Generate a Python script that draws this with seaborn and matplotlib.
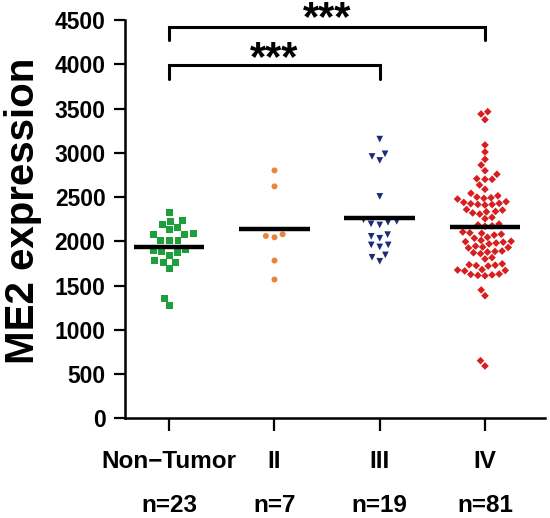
import numpy as np
import pandas as pd
import matplotlib
matplotlib.use("Agg")
import matplotlib.pyplot as plt
import seaborn as sns

categories = ["Non\u2212Tumor", "II", "III", "IV"]
n_labels = ["n=23", "n=7", "n=19", "n=81"]

non_tumor = [2327, 2233, 2191, 2225, 2157, 2131, 2083, 2072, 2075, 2011, 2011, 2011,
             1906, 1887, 1875, 1895, 1838, 1782, 1756, 1756, 1688, 1353, 1274]
stage_ii = [2800, 2620, 2079, 2045, 2060, 1782, 1568]
stage_iii = [3154, 2958, 2913, 2988, 2507, 2225, 2196, 2184, 2214, 2244,
             2075, 2034, 2056, 1959, 1936, 1959, 1846, 1774, 1819]
stage_iv = [3464, 3438, 3374, 3088, 3009, 2926, 2862, 2797, 2757, 2700, 2700, 2707,
            2636, 2587, 2542,
            2514, 2499, 2492, 2485, 2477,
            2447, 2439, 2428, 2424, 2416, 2416, 2409,
            2359, 2352, 2337, 2333, 2320, 2307,
            2270, 2255,
            2195, 2185, 2175, 2170,
            2105, 2095, 2090, 2080, 2070,
            2045, 2035,
            2010, 2000, 1995, 1990, 1980, 1970,
            1945, 1935, 1930, 1925,
            1890, 1885, 1878, 1870, 1860,
            1815, 1800,
            1745, 1735, 1730, 1725, 1720,
            1680, 1675, 1670, 1665,
            1625, 1620, 1615, 1630, 1610,
            1450, 1385, 651, 591]

groups = [non_tumor, stage_ii, stage_iii, stage_iv]
colors = ["#1f9e3c", "#e8843c", "#1b2a7a", "#d81e1e"]
markers = ["s", "o", "v", "D"]
sizes = [5.0, 4.3, 4.8, 3.9]
spacers = [1.0, 1.7, 1.2, 1.0]

sns.set_theme(style="ticks")
plt.rcParams["font.family"] = ["Liberation Sans", "DejaVu Sans"]
plt.rcParams["font.weight"] = "bold"
plt.rcParams["text.color"] = "black"
plt.rcParams["axes.labelcolor"] = "black"
plt.rcParams["xtick.color"] = "black"
plt.rcParams["ytick.color"] = "black"

fig = plt.figure(figsize=(5.5, 5.18), dpi=100)
ax = fig.add_axes([0.2273, 0.1925, 0.7636, 0.7689])

for i, (vals, col, mk, sz, sp) in enumerate(zip(groups, colors, markers, sizes, spacers)):
    df = pd.DataFrame({"group": categories[i], "value": vals})
    sns.swarmplot(data=df, x="group", y="value", order=categories, color=col,
                  marker=mk, size=sz, linewidth=sp, edgecolor="none", ax=ax, zorder=3)

# mean lines
for i, vals in enumerate(groups):
    ax.hlines(np.mean(vals), i - 0.335, i + 0.335, color="black", lw=3.2, zorder=4)

ax.set_xlim(-0.42, 3.57)
ax.set_ylim(0, 4500)
ax.set_yticks(np.arange(0, 4501, 500))
ax.set_xticks(range(4))
ax.set_xticklabels([f"{c}\n{n}" for c, n in zip(categories, n_labels)],
                   fontsize=17.5, fontweight="bold", linespacing=2.15, color="black")
for lab in ax.get_yticklabels():
    lab.set_fontsize(16.5)
    lab.set_fontweight("bold")
    lab.set_color("black")
ax.set_xlabel("")
ax.set_ylabel("ME2 expression", fontsize=29, fontweight="bold", labelpad=9, color="black")
ax.yaxis.label.set_y(0.52)

sns.despine(ax=ax)
for s in ["left", "bottom"]:
    ax.spines[s].set_linewidth(1.8)
    ax.spines[s].set_color("black")
ax.tick_params(axis="y", length=8, width=1.6, pad=6, colors="black")
ax.tick_params(axis="x", length=9, width=1.6, pad=14, colors="black")

# significance brackets
brackets = [(0, 3, 4418, 4274, 4385), (0, 2, 3991, 3834, 3930)]
for x0, x1, ytop, yend, ystar in brackets:
    ax.plot([x0, x0, x1, x1], [yend, ytop, ytop, yend], color="black", lw=2.2,
            clip_on=False, solid_joinstyle="miter")
    ax.text((x0 + x1) / 2, ystar, "***", ha="center", va="baseline",
            fontsize=30, fontweight="bold", clip_on=False, color="black")

fig.savefig("out.png", dpi=100)
